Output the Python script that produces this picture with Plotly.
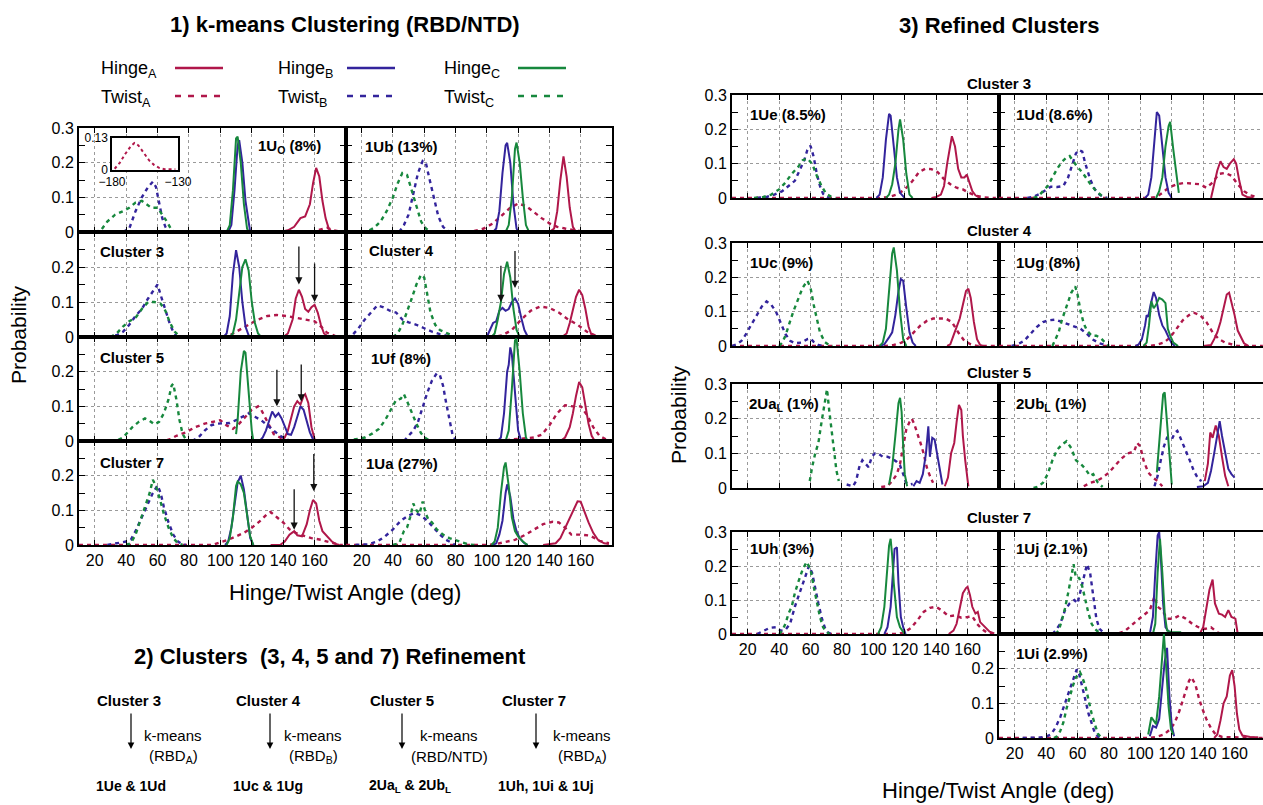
import plotly.graph_objects as go

W, H = 1263, 805
RED = "#B0174A"
BLUE = "#33249C"
GREEN = "#17883D"
FONT = "Liberation Sans, Arial, sans-serif"

X_TICKS = [20, 40, 60, 80, 100, 120, 140, 160]
Y_TICKS = [0, 0.1, 0.2, 0.3]

# ---------------- data (angle, probability) ----------------
# 1Uo
U0_HA = [(138,0),(143,0.005),(147,0.015),(151,0.04),(154,0.045),(157,0.08),(159,0.14),(161,0.185),(163,0.16),(165,0.09),(167,0.04),(169,0.01),(171,0),(178,0)]
U0_HB = [(105,0),(107,0.02),(109,0.12),(111,0.25),(112,0.265),(114,0.2),(116,0.09),(118,0.02),(119,0)]
U0_HC = [(104,0),(106,0.02),(108,0.12),(110,0.27),(111,0.275),(113,0.2),(115,0.08),(117,0.01),(118,0)]
U0_TA = [(10,0),(150,0),(160,0.003),(168,0.012),(172,0.005),(178,0)]
U0_TB = [(38,0),(42,0.01),(46,0.06),(50,0.1),(54,0.13),(57,0.145),(59,0.13),(61,0.08),(63,0.04),(65,0.015),(67,0)]
U0_TC = [(20,0),(24,0.005),(28,0.03),(33,0.05),(38,0.06),(42,0.07),(46,0.085),(50,0.09),(53,0.08),(56,0.07),(60,0.07),(63,0.05),(66,0.03),(69,0.005),(71,0)]
U0_INSET_TA = [(-178,0.005),(-174,0.03),(-170,0.065),(-166,0.095),(-163,0.11),(-160,0.1),(-156,0.07),(-152,0.04),(-148,0.02),(-144,0.008),(-140,0.003),(-132,0.003)]

# Cluster 3
C3_HA = [(140,0),(143,0.01),(146,0.05),(148,0.11),(150,0.135),(152,0.115),(154,0.08),(156,0.072),(158,0.085),(160,0.092),(162,0.07),(164,0.035),(166,0.01),(169,0)]
C3_HB = [(102,0),(104,0.01),(106,0.06),(108,0.18),(110,0.248),(112,0.2),(114,0.1),(116,0.03),(118,0.005),(120,0)]
C3_HC = [(106,0),(108,0.01),(110,0.05),(112,0.12),(114,0.2),(116,0.222),(118,0.19),(120,0.1),(122,0.04),(124,0.01),(126,0)]
C3_TA = [(10,0),(100,0),(106,0.005),(112,0.02),(118,0.035),(124,0.05),(130,0.06),(136,0.063),(142,0.06),(148,0.055),(154,0.05),(160,0.045),(164,0.03),(168,0.012),(173,0.003),(178,0)]
C3_TB = [(28,0),(34,0.005),(38,0.015),(42,0.035),(46,0.06),(50,0.08),(54,0.11),(57,0.13),(60,0.15),(62,0.12),(64,0.09),(66,0.06),(68,0.035),(70,0.015),(72,0.003),(75,0)]
C3_TC = [(30,0),(34,0.01),(38,0.03),(42,0.045),(46,0.055),(50,0.08),(54,0.1),(58,0.1),(62,0.095),(65,0.075),(68,0.04),(71,0.015),(74,0.002),(76,0)]
C3_ARROWS = [(150,0.263,0.15),(160,0.214,0.1)]

# 1Ub
UB_HA = [(140,0),(143,0.01),(145,0.06),(147,0.15),(149,0.218),(151,0.16),(153,0.07),(155,0.015),(157,0),(160,0)]
UB_HB = [(104,0),(106,0.01),(108,0.06),(110,0.17),(112,0.25),(113,0.257),(115,0.2),(117,0.08),(119,0.01),(120,0)]
UB_HC = [(112,0),(114,0.02),(116,0.1),(118,0.24),(119,0.258),(121,0.2),(123,0.1),(125,0.02),(127,0)]
UB_TA = [(10,0),(84,0),(92,0.003),(98,0.01),(104,0.025),(110,0.05),(115,0.07),(120,0.082),(125,0.075),(130,0.058),(135,0.04),(140,0.025),(145,0.015),(150,0.01),(156,0.005),(163,0),(178,0)]
UB_TB = [(44,0),(47,0.02),(50,0.05),(53,0.11),(56,0.17),(59,0.205),(61,0.2),(63,0.16),(66,0.1),(69,0.045),(72,0.015),(75,0.003),(77,0)]
UB_TC = [(20,0),(24,0.003),(28,0.012),(32,0.03),(36,0.06),(40,0.1),(43,0.14),(46,0.17),(49,0.165),(52,0.12),(55,0.07),(58,0.03),(61,0.01),(64,0),(66,0)]

# Cluster 4
C4_HA = [(148,0),(151,0.01),(153,0.04),(155,0.08),(157,0.115),(159,0.135),(161,0.12),(163,0.08),(165,0.03),(167,0.005),(169,0)]
C4_HB = [(100,0),(102,0.02),(104,0.04),(106,0.045),(108,0.075),(110,0.083),(112,0.075),(114,0.08),(116,0.1),(118,0.11),(120,0.095),(122,0.055),(124,0.02),(126,0.002),(128,0)]
C4_HC = [(103,0),(105,0.01),(107,0.05),(109,0.1),(111,0.18),(113,0.215),(115,0.17),(117,0.08),(119,0.02),(121,0)]
C4_TA = [(10,0),(105,0),(110,0.005),(116,0.02),(122,0.05),(128,0.075),(134,0.087),(140,0.083),(146,0.07),(152,0.05),(158,0.035),(164,0.015),(170,0.003),(178,0)]
C4_TB = [(10,0),(14,0.005),(18,0.025),(22,0.05),(26,0.07),(30,0.09),(34,0.085),(38,0.075),(42,0.07),(46,0.05),(50,0.042),(55,0.035),(60,0.025),(65,0.015),(70,0.008),(75,0.003),(78,0)]
C4_TC = [(40,0),(43,0.01),(46,0.035),(49,0.07),(52,0.11),(55,0.15),(58,0.178),(60,0.17),(62,0.12),(64,0.07),(67,0.035),(70,0.02),(74,0.012),(78,0.003),(80,0)]
C4_ARROWS = [(109,0.208,0.1),(118,0.25,0.14)]

# Cluster 5
C5_HA = [(139,0),(141,0.01),(143,0.03),(145,0.065),(147,0.1),(149,0.115),(151,0.105),(153,0.13),(154,0.135),(156,0.11),(158,0.04),(160,0.005),(161,0)]
C5_HB = [(125,0),(127,0.01),(129,0.03),(131,0.06),(133,0.085),(135,0.07),(137,0.08),(139,0.065),(141,0.04),(143,0.02),(145,0.018),(147,0.04),(149,0.07),(151,0.1),(153,0.09),(155,0.06),(157,0.025),(159,0.005),(161,0)]
C5_HC = [(110,0.02),(111,0.06),(113,0.2),(115,0.26),(116,0.255),(117,0.2),(119,0.08),(120,0.03),(121,0)]
C5_TA = [(10,0),(64,0),(68,0.005),(72,0.015),(78,0.025),(84,0.04),(90,0.05),(96,0.055),(100,0.06),(104,0.045),(108,0.035),(112,0.05),(116,0.07),(120,0.09),(124,0.1),(126,0.09),(130,0.055),(134,0.02),(138,0.01),(142,0),(178,0)]
C5_TB = [(82,0),(86,0.01),(90,0.03),(94,0.045),(98,0.05),(102,0.05),(106,0.052),(110,0.06),(114,0.07),(118,0.08),(122,0.07),(126,0.06),(130,0.045),(134,0.03),(138,0.015),(142,0.005),(145,0)]
C5_TC = [(30,0),(35,0.003),(38,0.01),(41,0.025),(44,0.04),(48,0.055),(52,0.065),(55,0.058),(58,0.048),(61,0.055),(64,0.08),(67,0.12),(69,0.16),(70,0.165),(72,0.12),(74,0.06),(76,0.02),(78,0.005),(80,0)]
C5_ARROWS = [(136,0.21,0.1),(151.5,0.225,0.114)]

# 1Uf
UF_HA = [(147,0),(150,0.01),(153,0.04),(155,0.08),(157,0.13),(159,0.17),(161,0.155),(163,0.1),(165,0.05),(167,0.015),(169,0),(171,0)]
UF_HB = [(107,0),(109,0.01),(111,0.08),(113,0.2),(114,0.22),(115,0.27),(116,0.25),(118,0.13),(120,0.03),(122,0)]
UF_HC = [(112,0),(114,0.03),(116,0.15),(118,0.29),(119,0.295),(121,0.2),(123,0.08),(125,0.01),(126,0)]
UF_TA = [(10,0),(110,0),(115,0.004),(122,0.007),(130,0.01),(135,0.018),(140,0.045),(145,0.08),(150,0.103),(155,0.1),(160,0.1),(164,0.075),(168,0.04),(172,0.015),(176,0.005),(178,0)]
UF_TB = [(47,0),(50,0.015),(53,0.03),(56,0.055),(59,0.1),(62,0.14),(65,0.175),(68,0.195),(70,0.19),(72,0.16),(74,0.11),(76,0.06),(78,0.02),(80,0.003),(81,0)]
UF_TC = [(10,0),(16,0.005),(22,0.01),(27,0.022),(31,0.035),(35,0.06),(39,0.095),(42,0.118),(45,0.122),(47,0.135),(49,0.115),(52,0.08),(55,0.05),(58,0.022),(61,0.008),(64,0),(66,0)]

# Cluster 7
C7_HA = [(132,0),(138,0),(141,0.01),(144,0.03),(147,0.04),(149,0.028),(152,0.025),(155,0.06),(157,0.1),(159,0.13),(161,0.12),(163,0.07),(165,0.04),(168,0.025),(171,0.01),(174,0.002),(176,0)]
C7_HB = [(103,0),(105,0.01),(107,0.05),(109,0.12),(111,0.18),(113,0.2),(115,0.16),(117,0.09),(119,0.02),(121,0)]
C7_HC = [(104,0),(106,0.02),(108,0.08),(110,0.17),(111,0.183),(113,0.175),(115,0.15),(117,0.08),(119,0.025),(121,0)]
C7_TA = [(10,0),(95,0),(100,0.008),(105,0.015),(110,0.025),(115,0.035),(120,0.05),(125,0.068),(130,0.09),(132,0.095),(136,0.08),(140,0.065),(144,0.045),(148,0.035),(152,0.028),(158,0.02),(164,0.015),(170,0.007),(176,0),(178,0)]
C7_TB = [(28,0),(32,0.003),(36,0.008),(40,0.01),(43,0.015),(46,0.04),(50,0.08),(54,0.12),(57,0.15),(60,0.172),(62,0.15),(64,0.11),(67,0.065),(70,0.03),(73,0.01),(76,0.002),(78,0)]
C7_TC = [(40,0),(43,0.005),(46,0.03),(49,0.07),(52,0.11),(55,0.15),(57,0.188),(59,0.17),(61,0.14),(64,0.09),(67,0.05),(70,0.02),(73,0.005),(76,0)]
C7_ARROWS = [(147,0.165,0.044),(159.5,0.267,0.155)]

# 1Ua
UA_HA = [(136,0),(140,0.003),(144,0.005),(147,0.02),(150,0.05),(153,0.08),(156,0.11),(158,0.126),(160,0.125),(162,0.1),(165,0.065),(168,0.035),(171,0.015),(175,0.005),(178,0.003)]
UA_HB = [(104,0),(106,0.005),(108,0.03),(110,0.07),(112,0.15),(113,0.175),(115,0.14),(117,0.075),(119,0.04),(121,0.02),(124,0.005),(126,0)]
UA_HC = [(103,0),(105,0.01),(107,0.05),(109,0.15),(111,0.225),(112,0.238),(114,0.17),(116,0.08),(118,0.04),(120,0.025),(123,0.01),(126,0)]
UA_TA = [(10,0),(100,0),(106,0.003),(112,0.008),(118,0.015),(124,0.028),(130,0.045),(136,0.06),(142,0.067),(146,0.065),(150,0.05),(154,0.03),(160,0.03),(166,0.027),(172,0.012),(178,0.005)]
UA_TB = [(16,0),(24,0.002),(30,0.01),(35,0.025),(40,0.045),(45,0.07),(50,0.085),(54,0.093),(58,0.085),(62,0.07),(66,0.05),(70,0.03),(74,0.015),(78,0.004),(80,0)]
UA_TC = [(40,0),(44,0.005),(47,0.04),(49,0.05),(51,0.08),(53,0.12),(55,0.1),(57,0.09),(59,0.125),(61,0.09),(63,0.07),(65,0.065),(68,0.045),(72,0.03),(76,0.02),(80,0.015),(84,0.008),(88,0.002),(92,0)]

# ---- refined clusters ----
# 1Ue
UE_HA = [(137,0),(140,0.003),(143,0.01),(145,0.035),(147,0.1),(149,0.16),(150,0.18),(152,0.15),(154,0.085),(156,0.06),(158,0.06),(159.5,0.068),(161,0.05),(163,0.02),(165,0.008),(168,0)]
UE_HB = [(102,0),(104,0.01),(106,0.06),(108,0.17),(110,0.245),(111,0.24),(113,0.15),(115,0.06),(117,0.015),(119,0.003),(120,0)]
UE_HC = [(108,0),(110,0.01),(112,0.04),(114,0.1),(116,0.2),(117,0.229),(119,0.17),(121,0.07),(123,0.01),(125,0)]
UE_TA = [(10,0),(104,0),(110,0.003),(115,0.01),(120,0.025),(125,0.05),(129,0.075),(133,0.085),(137,0.084),(141,0.075),(145,0.055),(149,0.04),(153,0.03),(157,0.025),(161,0.015),(165,0.007),(170,0.002),(178,0)]
UE_TB = [(26,0),(32,0.003),(37,0.01),(42,0.02),(46,0.035),(50,0.05),(53,0.08),(56,0.11),(58,0.14),(60,0.152),(62,0.12),(64,0.07),(66,0.035),(68,0.012),(70,0.003),(72,0)]
UE_TC = [(24,0),(30,0.003),(35,0.01),(40,0.025),(44,0.045),(48,0.07),(52,0.09),(55,0.11),(58,0.115),(61,0.1),(64,0.065),(67,0.035),(70,0.012),(73,0.004),(76,0)]

# 1Ud
UD_HA = [(145,0),(147,0.04),(149,0.08),(151,0.107),(153,0.09),(155,0.085),(157,0.1),(159.5,0.113),(161,0.1),(163,0.05),(165,0.01),(168,0.003),(172,0)]
UD_HB = [(103,0),(105,0.01),(107,0.06),(109,0.17),(110.5,0.25),(112,0.24),(114,0.14),(116,0.06),(118,0.015),(120,0)]
UD_HC = [(110,0),(112,0.02),(114,0.06),(116,0.15),(118,0.21),(119,0.222),(121,0.14),(123,0.06),(124.5,0.015)]
UD_TA = [(10,0),(105,0),(110,0.003),(114,0.015),(118,0.03),(123,0.04),(128,0.044),(133,0.043),(138,0.04),(142,0.03),(146,0.045),(150,0.07),(154,0.073),(158,0.065),(162,0.04),(166,0.02),(170,0.008),(175,0.002)]
UD_TB = [(28,0),(32,0.004),(36,0.012),(40,0.025),(43,0.033),(47,0.032),(51,0.035),(54,0.06),(57,0.1),(59,0.13),(61,0.14),(63,0.135),(65,0.1),(68,0.055),(71,0.025),(74,0.01),(77,0.002),(79,0)]
UD_TC = [(32,0),(35,0.005),(38,0.02),(41,0.035),(44,0.06),(47,0.085),(50,0.105),(53,0.118),(55,0.122),(57,0.108),(60,0.09),(63,0.075),(66,0.055),(69,0.035),(72,0.02),(75,0.008),(78,0)]

# 1Uc
UC_HA = [(147,0),(149,0.005),(151,0.03),(153,0.055),(155,0.08),(157,0.12),(159,0.16),(160.5,0.167),(162,0.14),(164,0.07),(166,0.02),(168,0.003),(170,0)]
UC_HB = [(104,0),(107,0.005),(110,0.025),(112,0.04),(114,0.09),(116,0.16),(117.5,0.195),(119,0.19),(121,0.11),(123,0.04),(125,0.01),(127,0)]
UC_HC = [(104,0),(106,0.01),(108,0.05),(110,0.15),(112,0.27),(113,0.287),(115,0.22),(117,0.1),(119,0.02),(121,0)]
UC_TA = [(10,0),(108,0),(113,0.003),(118,0.01),(122,0.022),(126,0.04),(130,0.06),(134,0.073),(138,0.08),(142,0.08),(146,0.08),(150,0.07),(154,0.04),(158,0.015),(162,0.005),(166,0),(178,0)]
UC_TB = [(10,0),(13,0.005),(16,0.015),(19,0.035),(22,0.06),(26,0.09),(29,0.115),(32,0.13),(35,0.12),(38,0.1),(41,0.07),(44,0.035),(47,0.015),(50,0.008),(54,0.01),(58,0.02),(60,0.022),(62,0.012),(65,0.003),(68,0)]
UC_TC = [(40,0),(42,0.01),(44,0.03),(46,0.06),(49,0.1),(52,0.135),(55,0.17),(58,0.19),(60,0.17),(62,0.12),(64,0.08),(66,0.04),(69,0.012),(72,0.002),(74,0)]

# 1Ug
UG_HA = [(140,0),(145,0.003),(147,0.02),(149,0.04),(151,0.07),(153,0.11),(155,0.15),(156.5,0.155),(158,0.13),(160,0.09),(162,0.045),(164,0.025),(166,0.008),(169,0)]
UG_HB = [(97,0),(99,0.005),(101,0.02),(103,0.06),(104,0.09),(105,0.085),(106.5,0.12),(108.5,0.157),(110,0.14),(112,0.09),(114,0.06),(116,0.045),(118,0.025),(120,0.008),(122,0)]
UG_HC = [(102,0),(104,0.01),(105.5,0.06),(107,0.13),(108.5,0.11),(110,0.12),(112,0.14),(114,0.135),(116,0.125),(117.5,0.05),(119,0.03),(121,0.01),(124,0)]
UG_TA = [(10,0),(105,0),(110,0.003),(115,0.01),(119,0.025),(123,0.05),(127,0.075),(131,0.09),(134,0.097),(138,0.09),(142,0.07),(146,0.04),(150,0.02),(154,0.01),(158,0.004),(162,0),(178,0)]
UG_TB = [(18,0),(22,0.005),(26,0.015),(30,0.035),(34,0.055),(38,0.07),(42,0.075),(46,0.077),(50,0.07),(54,0.062),(58,0.055),(62,0.05),(66,0.035),(70,0.018),(74,0.008),(78,0.002),(80,0)]
UG_TC = [(44,0),(46,0.02),(48,0.04),(50,0.075),(52,0.1),(54,0.125),(56,0.155),(58.5,0.174),(60,0.15),(62,0.1),(64,0.065),(66,0.045),(69,0.03),(72,0.03),(75,0.022),(78,0.008),(80,0)]

# 2UaL
A2_HA = [(145.5,0.005),(147.5,0.03),(149.5,0.1),(151.5,0.13),(153,0.19),(154.5,0.24),(156,0.225),(157,0.15),(158.5,0.08),(160.5,0.005)]
A2_HB = [(125.5,0.005),(127.5,0.02),(129.5,0.015),(131.5,0.04),(133.5,0.1),(135,0.178),(136,0.09),(137.5,0.145),(139,0.14),(141,0.09),(143,0.03),(144,0.01)]
A2_HC = [(110,0.01),(112,0.06),(114,0.15),(116,0.245),(117,0.26),(118,0.22),(119,0.12),(120,0.04),(121.5,0.005)]
A2_TA = [(105,0.003),(109,0.005),(112,0.02),(115,0.04),(117,0.07),(119,0.12),(121,0.17),(123,0.19),(124.5,0.2),(126,0.185),(128,0.16),(130,0.13),(132,0.1),(134,0.06),(136,0.035),(138,0.015)]
A2_TB = [(83,0.01),(87,0.005),(89,0.02),(91,0.06),(93,0.08),(95,0.07),(97,0.06),(99,0.09),(101,0.1),(103,0.1),(106,0.09),(109,0.09),(112,0.085),(115,0.075),(117,0.065),(119,0.04),(121,0.015),(123,0.01),(125,0.012)]
A2_TC = [(59.5,0.02),(61,0.06),(63,0.1),(65,0.13),(67,0.19),(69,0.25),(70.5,0.285),(72,0.22),(73.5,0.16),(75,0.1),(76.5,0.05),(78,0.02)]

# 2UbL
B2_HA = [(141,0.02),(143,0.07),(144.5,0.16),(146,0.145),(148,0.18),(150,0.15),(152,0.09),(154,0.035),(156,0.005)]
B2_HB = [(136,0.003),(140,0.005),(143,0.015),(145,0.05),(147,0.1),(149,0.16),(150.5,0.193),(152,0.15),(154,0.1),(156,0.055),(158,0.04),(160,0.03)]
B2_HC = [(110.5,0.045),(112.5,0.15),(114.5,0.27),(115.5,0.276),(117,0.18),(118.5,0.1),(120,0.01)]
B2_TA = [(64,0.005),(68,0.015),(72,0.02),(76,0.03),(80,0.045),(84,0.065),(88,0.085),(92,0.1),(96,0.105),(98,0.13),(100,0.12),(102,0.08),(105,0.045),(108,0.03),(111,0.02),(114,0.005)]
B2_TB = [(109,0.005),(111,0.035),(113,0.08),(115,0.12),(117,0.145),(120,0.14),(122,0.16),(123.5,0.165),(125,0.15),(128,0.12),(131,0.085),(134,0.05),(137,0.025),(139,0.02)]
B2_TC = [(32,0),(35,0.004),(38,0.015),(41,0.04),(44,0.08),(47,0.11),(50,0.125),(53,0.135),(56,0.115),(59,0.08),(62,0.07),(65,0.055),(68,0.035),(70,0.04),(73,0.015),(76,0.003)]

# 1Uh
UH_HA = [(148,0),(151,0.01),(153,0.03),(155,0.08),(157,0.12),(159,0.135),(160,0.139),(161.5,0.115),(163,0.08),(165,0.06),(166.5,0.065),(168,0.035),(171,0.02),(174,0.007),(177,0.002)]
UH_HB = [(107,0),(109,0.02),(111,0.08),(112.5,0.17),(113.5,0.25),(115,0.255),(116,0.15),(117.5,0.05),(119,0.02),(120.5,0)]
UH_HC = [(103,0),(105,0.02),(107,0.08),(108.5,0.168),(110,0.26),(111,0.28),(112,0.23),(113,0.15),(115,0.05),(117,0.02),(119,0.005),(120,0)]
UH_TA = [(10,0),(115,0),(120,0.005),(124,0.018),(128,0.04),(132,0.065),(136,0.077),(140,0.08),(144,0.068),(148,0.052),(152,0.055),(156,0.048),(160,0.05),(163,0.052),(166,0.03),(169,0.015),(172,0.005),(176,0),(178,0)]
UH_TB = [(26,0),(30,0.01),(34,0.018),(38,0.02),(41,0.01),(44,0.012),(47,0.03),(50,0.08),(53,0.12),(56,0.16),(59,0.2),(61,0.18),(63,0.13),(65,0.09),(67,0.05),(69,0.02),(71,0.005),(73,0)]
UH_TC = [(40,0),(42,0.01),(44,0.03),(46,0.06),(48,0.08),(50,0.12),(52,0.15),(55,0.19),(57.5,0.212),(60,0.19),(62,0.14),(64,0.09),(66,0.05),(68,0.02),(70,0.007),(72,0)]

# 1Uj
UJ_HA = [(132,0),(138,0.002),(140,0.02),(142,0.08),(144,0.13),(146,0.16),(147.5,0.09),(150,0.06),(152,0.057),(154,0.05),(156,0.07),(158,0.05),(160.5,0.045),(162,0)]
UJ_HB = [(106,0),(108,0.05),(109.5,0.18),(111,0.29),(112,0.3),(113,0.23),(114.5,0.09),(116,0.02),(118,0.007),(120,0)]
UJ_HC = [(108,0),(109.5,0.03),(111,0.18),(112.5,0.28),(114,0.18),(115.5,0.06),(117,0.01),(120,0.005),(126,0.005)]
UJ_TA = [(10,0),(80,0),(86,0.002),(90,0.008),(94,0.025),(98,0.04),(102,0.055),(106,0.07),(109,0.11),(111,0.08),(114,0.07),(117,0.045),(121,0.045),(125,0.055),(129,0.045),(133,0.03),(137,0.02),(141,0.015),(145,0.02),(149,0.005),(152,0)]
UJ_TB = [(44,0),(46,0.01),(49,0.03),(52,0.07),(55,0.09),(58,0.1),(60,0.09),(62,0.13),(64,0.17),(66,0.205),(68,0.18),(70,0.11),(72,0.045),(74,0.015),(77,0.002),(79,0)]
UJ_TC = [(46,0),(48,0.01),(50,0.04),(52,0.075),(54,0.12),(56,0.17),(57.5,0.205),(59,0.165),(61,0.165),(63,0.14),(65,0.1),(67,0.06),(69,0.03),(71,0.015),(74,0.003),(76,0),(90,0)]

# 1Ui
UI_HA = [(147,0),(149,0.01),(151,0.05),(153,0.1),(155,0.12),(157,0.18),(158.5,0.196),(160,0.15),(161.5,0.07),(163,0.025),(165,0.007),(170,0.003),(175,0.002)]
UI_HB = [(106,0.005),(108,0.035),(110,0.03),(112,0.055),(114,0.15),(115.5,0.22),(117,0.26),(118.5,0.12),(120,0.035),(121.5,0.005)]
UI_HC = [(105,0.01),(107,0.06),(108.5,0.05),(110,0.04),(112,0.12),(113.5,0.22),(115,0.3),(116.5,0.2),(118,0.09),(119.5,0.025),(121,0.01)]
UI_TA = [(10,0),(105,0),(110,0.003),(115,0.01),(119,0.025),(122,0.045),(125,0.08),(128,0.125),(131,0.165),(132.5,0.175),(135,0.155),(137,0.12),(139,0.09),(142,0.055),(145,0.028),(148,0.01),(152,0.003),(160,0.002),(178,0)]
UI_TB = [(25,0),(35,0.001),(40,0.004),(43,0.01),(46,0.03),(49,0.06),(52,0.1),(55,0.14),(58,0.18),(59.5,0.198),(61,0.185),(63,0.15),(65,0.11),(67,0.07),(69,0.04),(71,0.015),(73,0.004),(75,0)]
UI_TC = [(45,0),(47,0.005),(49,0.02),(51,0.045),(53,0.085),(55,0.12),(57,0.15),(59,0.175),(61.5,0.19),(63,0.175),(65,0.15),(67,0.11),(69,0.07),(71,0.04),(73,0.012),(75,0.002),(77,0)]

# text
LEGEND_NAMES = [("Hinge", "A"), ("Hinge", "B"), ("Hinge", "C")]
TWIST_NAMES = [("Twist", "A"), ("Twist", "B"), ("Twist", "C")]
STEP_SOURCES = ["Cluster 3", "Cluster 4", "Cluster 5", "Cluster 7"]
STEP_METHODS = ["(RBD<sub>A</sub>)", "(RBD<sub>B</sub>)", "(RBD/NTD)", "(RBD<sub>A</sub>)"]
STEP_RESULTS = ["1Ue &amp; 1Ud", "1Uc &amp; 1Ug", "2Ua<sub>L</sub> &amp; 2Ub<sub>L</sub>", "1Uh, 1Ui &amp; 1Uj"]

# ---------------- layout helpers ----------------
def px(x):
    return x / W

def py(y):
    return 1 - y / H

fig = go.Figure()
layout = {}
annotations = []
shapes = []

def ax_names(n):
    if n == 1:
        return "xaxis", "yaxis", "x", "y"
    return f"xaxis{n}", f"yaxis{n}", f"x{n}", f"y{n}"

TICKFONT = dict(family=FONT, size=16, color="black")

def add_panel(n, curves, xd, yd, xmax=180, xlabels=False, ylabels=None, mirror_y=True):
    xk, yk, xr, yr = ax_names(n)
    layout[xk] = dict(
        domain=[px(xd[0]), px(xd[1])], range=[10, xmax], anchor=yr,
        tickmode="array", tickvals=X_TICKS, showticklabels=xlabels,
        ticks="inside", ticklen=5, tickwidth=1, tickcolor="black",
        showgrid=True, gridcolor="#9a9a9a", griddash="dot", gridwidth=1,
        showline=True, linecolor="black", linewidth=2, mirror="ticks",
        zeroline=False, tickfont=TICKFONT, automargin=False,
        fixedrange=True,
    )
    yk_d = dict(
        domain=[py(yd[1]), py(yd[0])], range=[0, 0.3], anchor=xr,
        tickmode="array", tickvals=Y_TICKS,
        showticklabels=ylabels is not None,
        ticks="inside", ticklen=6, tickwidth=1, tickcolor="black",
        minor=dict(tickvals=[0.05, 0.15, 0.25], ticks="inside", ticklen=6, tickcolor="black", showgrid=False),
        showgrid=True, gridcolor="#9a9a9a", griddash="dot", gridwidth=1,
        showline=True, linecolor="black", linewidth=2, mirror="ticks" if mirror_y else False,
        zeroline=False, tickfont=TICKFONT, automargin=False,
        fixedrange=True,
    )
    if ylabels is not None:
        yk_d["ticktext"] = [("0" if v == 0 else f"{v:.1f}") if v in ylabels else "" for v in Y_TICKS]
    layout[yk] = yk_d
    ha, hb, hc, ta, tb, tc = curves
    for data, color, dash, w in [(ta, RED, "4px,4px", 2.4), (tb, BLUE, "4px,4px", 2.4), (tc, GREEN, "4px,4px", 2.4),
                                 (ha, RED, "solid", 2.0), (hb, BLUE, "solid", 2.0), (hc, GREEN, "solid", 2.0)]:
        fig.add_trace(go.Scatter(
            x=[p[0] for p in data], y=[p[1] for p in data], mode="lines",
            line=dict(color=color, width=w, dash=dash), xaxis=xr, yaxis=yr,
            showlegend=False, hoverinfo="skip"))
    return xr, yr

def label(text, x, y, size=15, bold=True, xanchor="left"):
    annotations.append(dict(
        text=f"<b>{text}</b>" if bold else text, x=px(x), y=py(y), xref="paper", yref="paper",
        xanchor=xanchor, yanchor="middle", showarrow=False, borderpad=0,
        font=dict(family=FONT, size=size, color="black")))

def data_arrows(xr, yr, arrows):
    for xa, ytail, yhead in arrows:
        annotations.append(dict(
            x=xa, y=yhead, ax=xa, ay=ytail, xref=xr, yref=yr, axref=xr, ayref=yr,
            showarrow=True, arrowhead=2, arrowsize=1.1, arrowwidth=1.3, arrowcolor="#111", text=""))

# ---------------- left block: k-means ----------------
LC = [(79, 346), (346, 612)]
LR = [(128, 232), (232, 337), (337, 441), (441, 545)]
left_panels = [
    ((U0_HA, U0_HB, U0_HC, U0_TA, U0_TB, U0_TC), 0, 0, None),
    ((UB_HA, UB_HB, UB_HC, UB_TA, UB_TB, UB_TC), 1, 0, None),
    ((C3_HA, C3_HB, C3_HC, C3_TA, C3_TB, C3_TC), 0, 1, C3_ARROWS),
    ((C4_HA, C4_HB, C4_HC, C4_TA, C4_TB, C4_TC), 1, 1, C4_ARROWS),
    ((C5_HA, C5_HB, C5_HC, C5_TA, C5_TB, C5_TC), 0, 2, C5_ARROWS),
    ((UF_HA, UF_HB, UF_HC, UF_TA, UF_TB, UF_TC), 1, 2, None),
    ((C7_HA, C7_HB, C7_HC, C7_TA, C7_TB, C7_TC), 0, 3, C7_ARROWS),
    ((UA_HA, UA_HB, UA_HC, UA_TA, UA_TB, UA_TC), 1, 3, None),
]
n = 0
for curves, c, r, arrows in left_panels:
    n += 1
    ylab = None
    if c == 0:
        ylab = [0, 0.1, 0.2, 0.3] if r == 0 else [0, 0.1, 0.2]
    xr, yr = add_panel(n, curves, LC[c], LR[r], xlabels=(r == 3), ylabels=ylab)
    if arrows:
        data_arrows(xr, yr, arrows)

# ---------------- right block: refined ----------------
RC = [(732, 999), (999, 1266)]
RR = [(95, 198), (243, 346), (384, 488), (532, 634), (634, 738)]
right_panels = [
    ((UE_HA, UE_HB, UE_HC, UE_TA, UE_TB, UE_TC), 0, 0),
    ((UD_HA, UD_HB, UD_HC, UD_TA, UD_TB, UD_TC), 1, 0),
    ((UC_HA, UC_HB, UC_HC, UC_TA, UC_TB, UC_TC), 0, 1),
    ((UG_HA, UG_HB, UG_HC, UG_TA, UG_TB, UG_TC), 1, 1),
    ((A2_HA, A2_HB, A2_HC, A2_TA, A2_TB, A2_TC), 0, 2),
    ((B2_HA, B2_HB, B2_HC, B2_TA, B2_TB, B2_TC), 1, 2),
    ((UH_HA, UH_HB, UH_HC, UH_TA, UH_TB, UH_TC), 0, 3),
    ((UJ_HA, UJ_HB, UJ_HC, UJ_TA, UJ_TB, UJ_TC), 1, 3),
    ((UI_HA, UI_HB, UI_HC, UI_TA, UI_TB, UI_TC), 1, 4),
]
for curves, c, r in right_panels:
    n += 1
    xd = RC[c]
    xmax = 180
    if c == 1:
        xmax = 10 + (W - xd[0]) / (xd[1] - xd[0]) * 170
        xd = (xd[0], W)
    if c == 0:
        ylab = [0, 0.1, 0.2, 0.3]
    elif r == 4:
        ylab = [0, 0.1, 0.2]
    else:
        ylab = None
    xlabels = (c == 0 and r == 3) or (c == 1 and r == 4)
    add_panel(n, curves, xd, RR[r], xmax=xmax, xlabels=xlabels, ylabels=ylab, mirror_y=(c == 0))

# ---------------- inset in 1Uo ----------------
n += 1
xk, yk, xr, yr = ax_names(n)
INSET_FONT = dict(family=FONT, size=12, color="black")
layout[xk] = dict(domain=[px(112), px(178)], range=[-180, -130], anchor=yr,
                  tickmode="array", tickvals=[-180, -130], ticktext=["\u2212180", "\u2212130"],
                  ticks="", showgrid=False, zeroline=False, showline=True, linecolor="black",
                  linewidth=1.5, mirror=True, tickfont=INSET_FONT, automargin=False,
                  fixedrange=True)
layout[yk] = dict(domain=[py(170), py(138)], range=[0, 0.13], anchor=xr,
                  tickmode="array", tickvals=[0, 0.13], ticktext=["0", "0.13"],
                  ticks="", showgrid=False, zeroline=False, showline=True, linecolor="black",
                  linewidth=1.5, mirror=True, tickfont=INSET_FONT, automargin=False,
                  fixedrange=True)
fig.add_trace(go.Scatter(x=[-180, -130, -130, -180, -180], y=[0, 0, 0.13, 0.13, 0], fill="toself",
                         fillcolor="white", line=dict(width=0, color="white"), mode="lines",
                         xaxis=xr, yaxis=yr, showlegend=False, hoverinfo="skip"))
fig.add_trace(go.Scatter(x=[p[0] for p in U0_INSET_TA], y=[p[1] for p in U0_INSET_TA], mode="lines",
                         line=dict(color=RED, width=2, dash="3px,3px"), xaxis=xr, yaxis=yr,
                         showlegend=False, hoverinfo="skip"))

# ---------------- panel labels ----------------
label("1U<sub>O</sub> (8%)", 257, 146)
label("1Ub (13%)", 364, 146)
label("Cluster 3", 99, 252)
label("Cluster 4", 368, 251)
label("Cluster 5", 99, 357)
label("1Uf (8%)", 370, 358)
label("Cluster 7", 99, 462)
label("1Ua (27%)", 365, 463)

label("1Ue (8.5%)", 749, 115)
label("1Ud (8.6%)", 1015, 115)
label("1Uc (9%)", 749, 262)
label("1Ug (8%)", 1015, 262)
label("2Ua<sub>L</sub> (1%)", 748, 405)
label("2Ub<sub>L</sub> (1%)", 1015, 405)
label("1Uh (3%)", 749, 548)
label("1Uj (2.1%)", 1015, 548)
label("1Ui (2.9%)", 1015, 653)

for t, yy in zip(["Cluster 3", "Cluster 4", "Cluster 5", "Cluster 7"], [84, 230, 372, 517]):
    label(t, 999, yy, size=15, xanchor="center")

# titles
label("1) k-means Clustering (RBD/NTD)", 345, 25, size=22, xanchor="center")
label("3) Refined Clusters", 999, 26, size=22, xanchor="center")
label("2) Clusters  (3, 4, 5 and 7) Refinement", 330, 656, size=22, xanchor="center")

# axis titles
label("Hinge/Twist Angle (deg)", 345, 592, size=22, bold=False, xanchor="center")
label("Hinge/Twist Angle (deg)", 998, 790, size=22, bold=False, xanchor="center")
for xx, yy in [(18, 335), (678, 415)]:
    annotations.append(dict(text="Probability", x=px(xx), y=py(yy), xref="paper", yref="paper",
                            xanchor="center", yanchor="middle", showarrow=False, textangle=-90,
                            font=dict(family=FONT, size=21, color="black")))

# legend
LEG_X = [(100, 175, 223), (277, 347, 395), (443, 518, 566)]
for (tx, l0, l1), (hn, hs), (tn, ts), col in zip(LEG_X, LEGEND_NAMES, TWIST_NAMES, [RED, BLUE, GREEN]):
    label(f"{hn}<sub>{hs}</sub>", tx, 70, size=18, bold=False)
    label(f"{tn}<sub>{ts}</sub>", tx, 99, size=18, bold=False)
    shapes.append(dict(type="line", xref="paper", yref="paper", x0=px(l0), x1=px(l1), y0=py(68), y1=py(68),
                       line=dict(color=col, width=2.5)))
    shapes.append(dict(type="line", xref="paper", yref="paper", x0=px(l0), x1=px(l1), y0=py(96), y1=py(96),
                       line=dict(color=col, width=2.5, dash="6px,7px")))

# refinement diagram
SRC_X = [129, 268, 402, 534]
ARR_X = [131, 270, 402, 536]
MET_X = [173, 313, 449, 582]
RES_X = [131, 268, 410, 546]
for i in range(4):
    label(STEP_SOURCES[i], SRC_X[i], 700, size=15, xanchor="center")
    annotations.append(dict(x=px(ARR_X[i]), y=py(749), ax=0, ay=-37, xref="paper", yref="paper",
                            showarrow=True, arrowhead=2, arrowsize=1.1,
                            arrowwidth=1.2, arrowcolor="black", text=""))
    label("k-means", MET_X[i], 735, size=15, bold=False, xanchor="center")
    label(STEP_METHODS[i], MET_X[i], 756, size=15, bold=False, xanchor="center")
    label(STEP_RESULTS[i], RES_X[i], 786, size=14, xanchor="center")

layout.update(dict(
    width=W, height=H, margin=dict(l=0, r=0, t=0, b=0, pad=0, autoexpand=False),
    paper_bgcolor="white", plot_bgcolor="white",
    annotations=annotations, shapes=shapes, showlegend=False,
    font=dict(family=FONT, color="black"),
))
fig.update_layout(**layout)
fig.write_html("out.html")
